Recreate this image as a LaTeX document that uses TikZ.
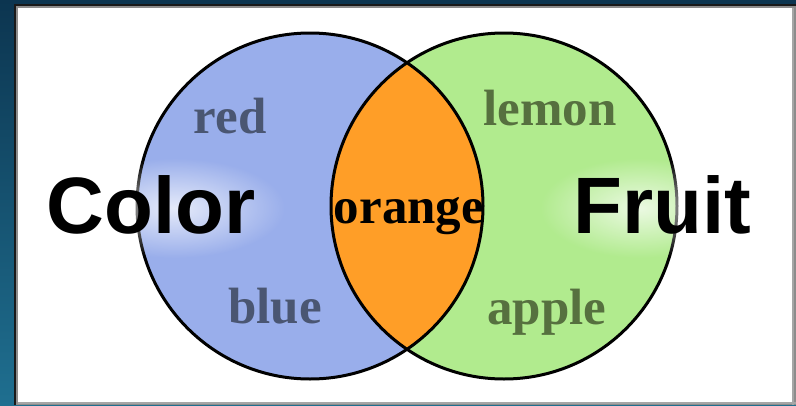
\documentclass[tikz,border=0pt]{standalone}
\usepackage{fontspec}
\setmainfont{Liberation Serif}
\setsansfont{Liberation Sans}
\usetikzlibrary{fadings}
\definecolor{bgtop}{HTML}{0C3550}
\definecolor{bgbot}{HTML}{1F6F90}
\definecolor{bluefill}{HTML}{99AEEB}
\definecolor{greenfill}{HTML}{B1EB8E}
\definecolor{orangefill}{HTML}{FF9E27}
\definecolor{slatetext}{HTML}{4A5672}
\definecolor{leaftext}{HTML}{56703F}
\tikzfading[name=glowfade, inner color=transparent!25, outer color=transparent!100]
\tikzset{
  setlabel/.style={font=\sffamily\bfseries\fontsize{80}{80}\selectfont, inner sep=0pt, anchor=base, text=black},
  glowspot/.style={fill=white, path fading=glowfade},
  itemlabel/.style={font=\bfseries\fontsize{51}{51}\selectfont, inner sep=0pt, anchor=base},
  ring/.style={draw=black, line width=3pt},
}
\begin{document}
\begin{tikzpicture}[x=1pt,y=-1pt]
\useasboundingbox (0,0) rectangle (796,405);
% frame
\shade[top color=bgtop, bottom color=bgbot] (0,0) rectangle (796,405);
\fill[black!90] (14,4) rectangle (796,405);
\fill[black!45] (16,6) rectangle (796,405);
\fill[white] (18,8) rectangle (792,402);
\fill[black!35] (792,8) rectangle (794,405);
\fill[black!35] (18,402) rectangle (796,404);
% circles
\coordinate (cl) at (310,206);
\coordinate (cr) at (504,206);
\fill[bluefill] (cl) circle[radius=173pt];
\fill[greenfill] (cr) circle[radius=173pt];
\begin{scope}
  \clip (cl) circle[radius=173pt];
  \fill[orangefill] (cr) circle[radius=173pt];
\end{scope}
\draw[ring] (cl) circle[radius=173pt];
\draw[ring] (cr) circle[radius=173pt];
% glow behind the set names
\fill[glowspot] (175,208) ellipse[x radius=110pt, y radius=50pt];
\fill[glowspot] (640,208) ellipse[x radius=100pt, y radius=50pt];
% labels
\node[setlabel] (color) at (151,233) {Color};
\node[setlabel] (fruit) at (662,233) {Fruit};
\node[itemlabel, text=slatetext] (red) at (230,133) {red};
\node[itemlabel, text=slatetext] (blue) at (275,323) {blue};
\node[itemlabel, text=leaftext] (lemon) at (550,125) {lemon};
\node[itemlabel, text=leaftext] (apple) at (547,324) {apple};
\node[itemlabel, text=black] (orange) at (409,223) {orange};
\end{tikzpicture}
\end{document}
